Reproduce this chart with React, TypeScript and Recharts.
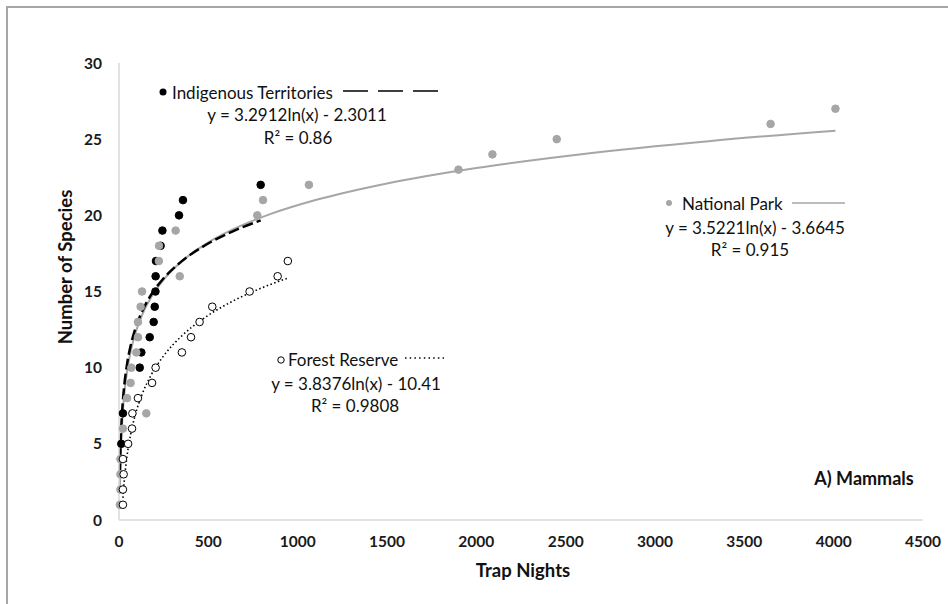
import React from 'react';
import { ComposedChart, Scatter, Line, XAxis, YAxis } from 'recharts';

// trap nights / species counts
const indigenousNights = [13, 22, 116, 125, 172, 194, 200, 204, 205, 207, 233, 243, 336, 358, 793];
const indigenousSpecies = [5, 7, 10, 11, 12, 13, 14, 15, 16, 17, 18, 19, 20, 21, 22];

const parkNights = [5, 8, 8, 8, 22, 153, 45, 65, 69, 97, 106, 106, 121, 129, 340, 223, 224, 317, 774, 806, 1063, 1900, 2090, 2450, 3647, 4010];
const parkSpecies = [1, 2, 3, 4, 6, 7, 8, 9, 10, 11, 12, 13, 14, 15, 16, 17, 18, 19, 20, 21, 22, 23, 24, 25, 26, 27];

const reserveNights = [22, 22, 26, 22, 51, 73, 75, 106, 185, 205, 352, 403, 451, 522, 731, 888, 945];
const reserveSpecies = [1, 2, 3, 4, 5, 6, 7, 8, 9, 10, 11, 12, 13, 14, 15, 16, 17];

// log trendline coefficients as printed on the chart: y = a ln(x) + b
const indigenousFit = [3.2912, -2.3011];
const parkFit = [3.5221, -3.6645];
const reserveFit = [3.8376, -10.41];

const indigenousFitX = [5, 8, 12, 20, 30, 45, 65, 90, 130, 180, 250, 350, 480, 640, 793];
const parkFitX = [5, 8, 12, 20, 30, 45, 65, 90, 130, 180, 250, 350, 480, 640, 850, 1100, 1500, 2000, 2600, 3300, 4010];
const reserveFitX = [22, 30, 45, 65, 90, 130, 180, 250, 350, 480, 640, 800, 945];

const xTicks = [0, 500, 1000, 1500, 2000, 2500, 3000, 3500, 4000, 4500];
const yTicks = [0, 5, 10, 15, 20, 25, 30];

const pairs = (xs: number[], ys: number[]) => xs.map((x, i) => ({ x, y: ys[i] }));
const trend = (xs: number[], fit: number[]) => xs.map(x => ({ x, y: fit[0] * Math.log(x) + fit[1] }));

const GREY = '#a6a6a6';
const FONT = 'Lato, "Open Sans", sans-serif';

const dotShape = (fill: string, stroke: string) => (p: any) => (
    <circle cx={p.cx} cy={p.cy} r={3.8} fill={fill} stroke={stroke} strokeWidth={1} />
);

const tickStyle = { fontFamily: FONT, fontSize: 15.5, fontWeight: 700, fill: '#1a1a1a' };

const txt = (left: number, top: number, s: string, extra: any = {}) => (
    <div style={{
        position: 'absolute', left, top, transform: 'translate(-50%, -50%)',
        whiteSpace: 'nowrap', fontFamily: FONT, fontSize: 17, color: '#111', lineHeight: 1, ...extra
    }}>{s}</div>
);

const leftTxt = (left: number, top: number, s: string) => (
    <div style={{
        position: 'absolute', left, top, transform: 'translateY(-50%)',
        whiteSpace: 'nowrap', fontFamily: FONT, fontSize: 17, color: '#111', lineHeight: 1
    }}>{s}</div>
);

export default function App() {
    return (
        <div style={{ position: 'relative', width: 948, height: 604, overflow: 'hidden', background: '#fff' }}>
            <style>{`body{margin:0}`}</style>
            <div style={{
                position: 'absolute', left: 6, top: 6, width: 1000, height: 700,
                borderLeft: '2px solid #a6a6a6', borderTop: '2px solid #a6a6a6'
            }} />
            <ComposedChart width={948} height={604} margin={{ top: 63, right: 25, bottom: 54, left: 59 }}
                style={{ position: 'absolute', left: 0, top: 0 }}>
                <XAxis type="number" dataKey="x" domain={[0, 4500]} ticks={xTicks} height={30}
                    tickLine={false} tickSize={0} tickMargin={16} tick={tickStyle}
                    axisLine={{ stroke: '#d9d9d9', strokeWidth: 1.5 }} />
                <YAxis type="number" dataKey="y" domain={[0, 30]} ticks={yTicks} width={60}
                    tickLine={false} tickSize={0} tickMargin={17} tick={tickStyle}
                    axisLine={{ stroke: '#d9d9d9', strokeWidth: 1.5 }} />
                <Scatter data={pairs(indigenousNights, indigenousSpecies)} shape={dotShape('#000', '#000')} isAnimationActive={false} />
                <Scatter data={pairs(parkNights, parkSpecies)} shape={dotShape(GREY, GREY)} isAnimationActive={false} />
                <Scatter data={pairs(reserveNights, reserveSpecies)} shape={dotShape('#fff', '#000')} isAnimationActive={false} />
                <Line data={trend(parkFitX, parkFit)} dataKey="y" type="monotone" stroke={GREY} strokeWidth={2}
                    dot={false} activeDot={false} isAnimationActive={false} />
                <Line data={trend(indigenousFitX, indigenousFit)} dataKey="y" type="monotone" stroke="#000" strokeWidth={2.5}
                    strokeDasharray="11 4" dot={false} activeDot={false} isAnimationActive={false} />
                <Line data={trend(reserveFitX, reserveFit)} dataKey="y" type="monotone" stroke="#000" strokeWidth={1.6}
                    strokeDasharray="1.5 2.5" dot={false} activeDot={false} isAnimationActive={false} />
            </ComposedChart>

            {/* legend symbols */}
            <svg style={{ position: 'absolute', left: 0, top: 0 }} width={948} height={604}>
                <circle cx={163} cy={92} r={3.5} fill="#000" />
                <line x1={343} y1={91} x2={438} y2={91} stroke="#000" strokeWidth={1.5} strokeDasharray="25 10" />
                <circle cx={669} cy={203} r={3} fill={GREY} />
                <line x1={792} y1={203} x2={845} y2={203} stroke={GREY} strokeWidth={1.5} />
                <circle cx={281} cy={360} r={3.2} fill="#fff" stroke="#000" strokeWidth={1} />
                <line x1={405} y1={358} x2={444} y2={358} stroke="#000" strokeWidth={1.5} strokeDasharray="1.5 3.2" />
            </svg>
            {leftTxt(172, 92, 'Indigenous  Territories')}
            {txt(297, 114, 'y = 3.2912ln(x)  - 2.3011')}
            {txt(298, 137, 'R² = 0.86')}

            {leftTxt(682, 203, 'National Park')}
            {txt(755, 227, 'y = 3.5221ln(x)  - 3.6645')}
            {txt(750, 249, 'R² = 0.915')}

            {leftTxt(288, 359, 'Forest Reserve')}
            {txt(356, 383, 'y = 3.8376ln(x)  - 10.41')}
            {txt(355, 405, 'R² = 0.9808')}

            {txt(864, 478, 'A) Mammals', { fontWeight: 700, fontSize: 18 })}
            {txt(523, 570, 'Trap Nights', { fontWeight: 700, fontSize: 18.5 })}
            {txt(65, 267, 'Number of Species', { fontWeight: 700, fontSize: 18.5, transform: 'translate(-50%, -50%) rotate(-90deg)' })}
        </div>
    );
}
